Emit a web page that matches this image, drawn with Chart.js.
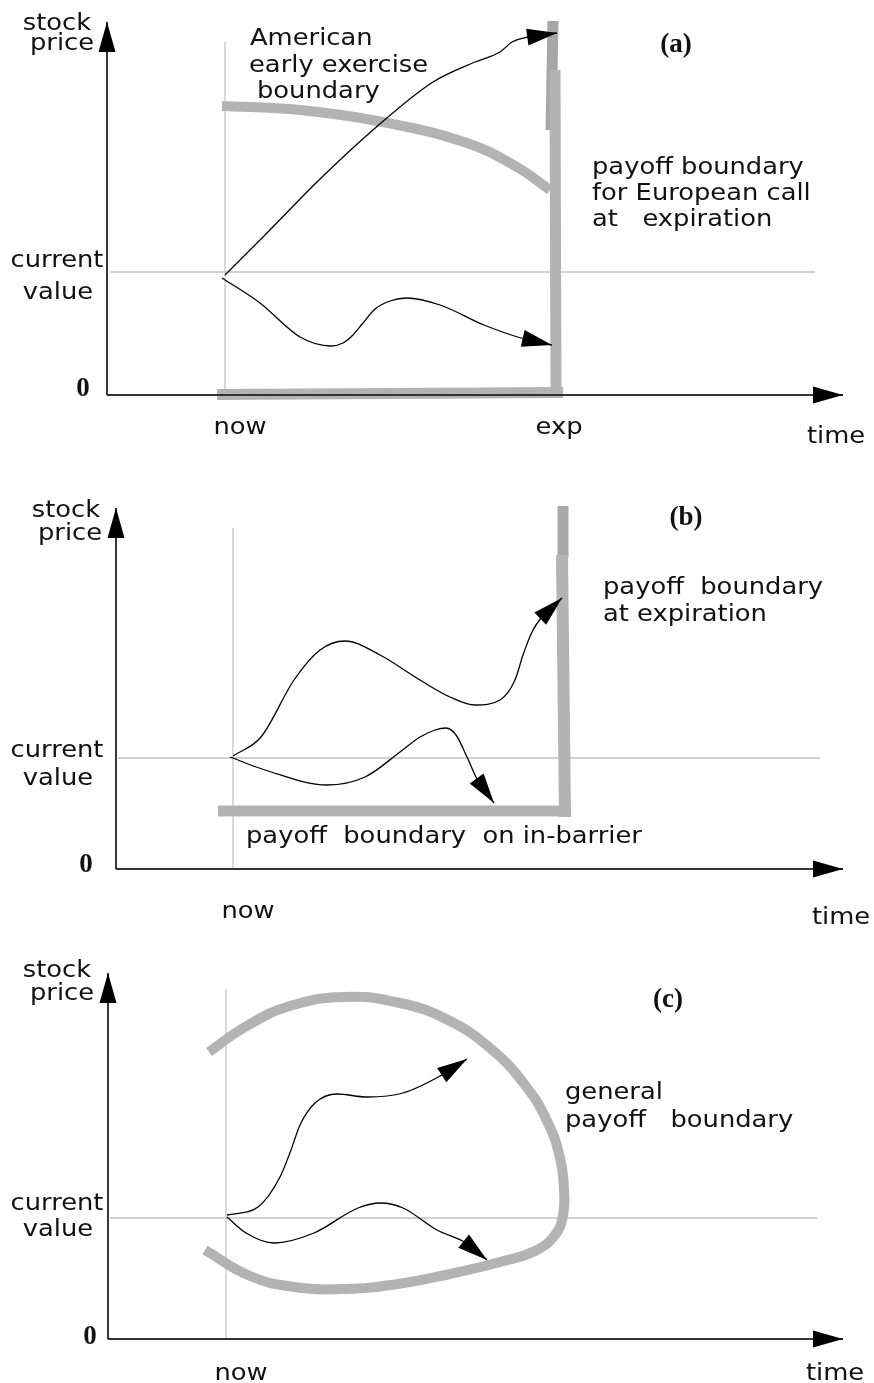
<!DOCTYPE html>
<html>
<head>
<title>Option payoff boundaries</title>
<script src="https://cdn.jsdelivr.net/npm/chart.js@4.4.1/dist/chart.umd.min.js"></script>
<style>
body { margin: 0; background: #fff; }
canvas { display: block; }
</style>
</head>
<body>
<canvas id="panelA" width="874" height="462"></canvas>
<canvas id="panelB" width="874" height="468"></canvas>
<canvas id="panelC" width="874" height="453"></canvas>
<script>
// units: x = time after the price axis, y = stock price above zero

// (a) american call
const aPriceAxis = [[0, 0], [0, 373]];
const aTimeAxis = [[0, 0], [736, 0]];
const aNow = [[118, 0], [118, 353]];
const aCurrent = [[3, 123], [708, 123]];
const aEarlyBoundary = [[115, 289], [193, 285], [276, 273], [360, 252], [410, 228], [443, 205]];
const aExpiryLow = [[449, -3], [448, 325]];
const aExpiryHigh = [[444, 265], [446, 374]];
const aZeroBoundary = [[110, 0.5], [456, 2.5]];
const aPathUp = [[118, 120], [160, 162], [210, 213], [266, 265], [326, 313], [368, 333], [393, 343], [405, 353], [421, 358], [450, 362]];
const aPathDown = [[115, 117], [153, 92], [193, 58], [224, 49], [236, 52], [246, 60], [256, 72], [268, 86], [283, 94], [300, 97], [333, 90], [377, 70], [414, 57], [445, 50]];

// (b) in-barrier
const bPriceAxis = [[0, 0], [0, 361]];
const bTimeAxis = [[0, 0], [727, 0]];
const bNow = [[117, 0], [117, 341]];
const bCurrent = [[2, 111], [704, 111]];
const bBarrier = [[102, 58], [449, 58], [449, 52]];
const bExpiryLow = [[449, 52], [446, 314]];
const bExpiryHigh = [[447, 312], [447, 363]];
const bPathUp = [[117, 113], [145, 132], [178, 189], [204, 219], [229, 228], [264, 214], [304, 189], [334, 172], [359, 164], [384, 169], [399, 189], [407, 214], [416, 237], [425, 251], [446, 271]];
const bPathDown = [[114, 112], [149, 99], [211, 84], [249, 92], [284, 117], [304, 132], [319, 139], [330, 141], [340, 134], [351, 112], [361, 90], [378, 66]];

// (c) general boundary
const cPriceAxis = [[0, 0], [0, 366]];
const cTimeAxis = [[0, 0], [735, 0]];
const cNow = [[118, 0], [118, 350]];
const cCurrent = [[2, 121], [709, 121]];
const cBoundary = [[101, 287], [137, 312], [182, 333], [237, 342], [292, 336], [340, 319], [382, 291], [417, 254], [440, 216], [452, 181], [456, 149], [455, 124], [447, 104], [427, 88], [392, 77], [342, 65], [290, 55], [237, 50], [187, 52], [142, 63], [97, 89]];
const cPathUp = [[119, 124], [150, 132], [172, 162], [183, 189], [192, 214], [207, 236], [229, 245], [259, 242], [295, 246], [334, 264], [359, 280]];
const cPathDown = [[119, 122], [138, 106], [166, 96], [206, 106], [250, 131], [273, 136], [295, 131], [329, 109], [358, 96], [379, 79]];

// labels: text, x, y, align, font kind
const aLabels = [
  ['stock', -50, 365, 'center', 'sans'], ['price', -45, 345, 'center', 'sans'],
  ['current', -50, 128, 'center', 'sans'], ['value', -49, 96, 'center', 'sans'],
  ['0', -24, -1, 'center', 'serif'], ['now', 133, -39, 'center', 'sans'],
  ['exp', 452, -39, 'center', 'sans'], ['time', 729, -48, 'center', 'sans'],
  ['(a)', 569, 343, 'center', 'serif'],
  ['American', 143, 350, 'left', 'sans'], ['early exercise', 142, 323, 'left', 'sans'], ['boundary', 150, 297, 'left', 'sans'],
  ['payoff boundary', 485, 221, 'left', 'sans'], ['for European call', 485, 195, 'left', 'sans'], ['at   expiration', 485, 169, 'left', 'sans']
];
const bLabels = [
  ['stock', -50, 352, 'center', 'sans'], ['price', -46, 329, 'center', 'sans'],
  ['current', -59, 112, 'center', 'sans'], ['value', -58, 84, 'center', 'sans'],
  ['0', -30, -3, 'center', 'serif'], ['now', 132, -49, 'center', 'sans'],
  ['time', 725, -55, 'center', 'sans'], ['(b)', 570, 344, 'center', 'serif'],
  ['payoff  boundary', 487, 275, 'left', 'sans'], ['at expiration', 487, 248, 'left', 'sans'],
  ['payoff  boundary  on in-barrier', 130, 26, 'left', 'sans']
];
const cLabels = [
  ['stock', -51, 362, 'center', 'sans'], ['price', -46, 339, 'center', 'sans'],
  ['current', -51, 129, 'center', 'sans'], ['value', -50, 103, 'center', 'sans'],
  ['0', -18, -5, 'center', 'serif'], ['now', 133, -41, 'center', 'sans'],
  ['time', 727, -41, 'center', 'sans'], ['(c)', 560, 332, 'center', 'serif'],
  ['general', 457, 240, 'left', 'sans'], ['payoff   boundary', 457, 212, 'left', 'sans']
];

var GRAY = '#b3b3b3';
var GRAY_DARK = '#a7a7a7';
var THIN = '#c2c2c2';

function pts(list) {
  return list.map(function(p) { return {x: p[0], y: p[1]}; });
}

function line(list, color, width, extra) {
  return Object.assign({
    data: pts(list), showLine: true, borderColor: color, borderWidth: width,
    pointRadius: 0, fill: false, tension: 0, borderJoinStyle: 'miter'
  }, extra || {});
}

// smooth price path, x always increasing
function path(list) {
  return line(list, '#000', 1.3, { cubicInterpolationMode: 'monotone', arrow: true });
}

// arrow heads at the end of flagged datasets
var arrowPlugin = {
  id: 'arrows',
  afterDatasetsDraw: function(chart) {
    var ctx = chart.ctx;
    chart.data.datasets.forEach(function(ds, i) {
      if (!ds.arrow) return;
      var el = chart.getDatasetMeta(i).data;
      var tip = el[el.length - 1], prev = el[el.length - 2];
      var a = Math.atan2(tip.y - prev.y, tip.x - prev.x);
      var len = 30, half = 8.5;
      ctx.save();
      ctx.translate(tip.x, tip.y);
      ctx.rotate(a);
      ctx.beginPath();
      ctx.moveTo(0, 0);
      ctx.lineTo(-len, -half);
      ctx.lineTo(-len, half);
      ctx.closePath();
      ctx.fillStyle = '#000';
      ctx.fill();
      ctx.restore();
    });
  }
};

var labelPlugin = {
  id: 'labels',
  afterDraw: function(chart) {
    var ctx = chart.ctx;
    var xs = chart.scales.x, ys = chart.scales.y;
    chart.options.plugins.labels.items.forEach(function(l) {
      var px = xs.getPixelForValue(l[1]), py = ys.getPixelForValue(l[2]);
      ctx.save();
      ctx.translate(px, py);
      ctx.fillStyle = '#111';
      ctx.textAlign = l[3];
      ctx.textBaseline = 'alphabetic';
      if (l[4] == 'serif') {
        ctx.font = 'bold 27px "Liberation Serif"';
      } else {
        ctx.font = '23px "DejaVu Sans"';
        ctx.scale(1.12, 1);
      }
      ctx.fillText(l[0], 0, 0);
      ctx.restore();
    });
  }
};

function makePanel(id, datasets, labels, xRange, yRange) {
  return new Chart(document.getElementById(id), {
    type: 'scatter',
    data: { datasets: datasets },
    options: {
      responsive: false,
      animation: false,
      events: [],
      layout: { padding: 0 },
      plugins: { legend: { display: false }, tooltip: { enabled: false }, labels: { items: labels } },
      scales: {
        x: { type: 'linear', display: false, min: xRange[0], max: xRange[1] },
        y: { type: 'linear', display: false, min: yRange[0], max: yRange[1] }
      }
    },
    plugins: [arrowPlugin, labelPlugin]
  });
}

// first dataset is drawn on top
makePanel('panelA', [
  path(aPathUp),
  path(aPathDown),
  line(aPriceAxis, '#222', 1.8, { arrow: true }),
  line(aTimeAxis, '#333', 2.2, { arrow: true }),
  line(aEarlyBoundary, GRAY, 10, { tension: 0.4 }),
  line(aExpiryLow, GRAY, 11),
  line(aExpiryHigh, GRAY_DARK, 11),
  line(aZeroBoundary, GRAY, 11),
  line(aNow, THIN, 1.2),
  line(aCurrent, THIN, 1.5)
], aLabels, [-107, 767], [-67, 395]);

makePanel('panelB', [
  path(bPathUp),
  path(bPathDown),
  line(bPriceAxis, '#222', 1.8, { arrow: true }),
  line(bTimeAxis, '#333', 2.2, { arrow: true }),
  line(bBarrier, GRAY, 11),
  line(bExpiryLow, GRAY, 12),
  line(bExpiryHigh, GRAY_DARK, 11),
  line(bNow, THIN, 1.2),
  line(bCurrent, THIN, 1.5)
], bLabels, [-116, 758], [-61, 407]);

makePanel('panelC', [
  path(cPathUp),
  path(cPathDown),
  line(cPriceAxis, '#222', 1.8, { arrow: true }),
  line(cTimeAxis, '#333', 2.2, { arrow: true }),
  line(cBoundary, GRAY, 10, { tension: 0.45 }),
  line(cNow, THIN, 1.2),
  line(cCurrent, THIN, 1.5)
], cLabels, [-108, 766], [-44, 409]);
</script>
</body>
</html>
